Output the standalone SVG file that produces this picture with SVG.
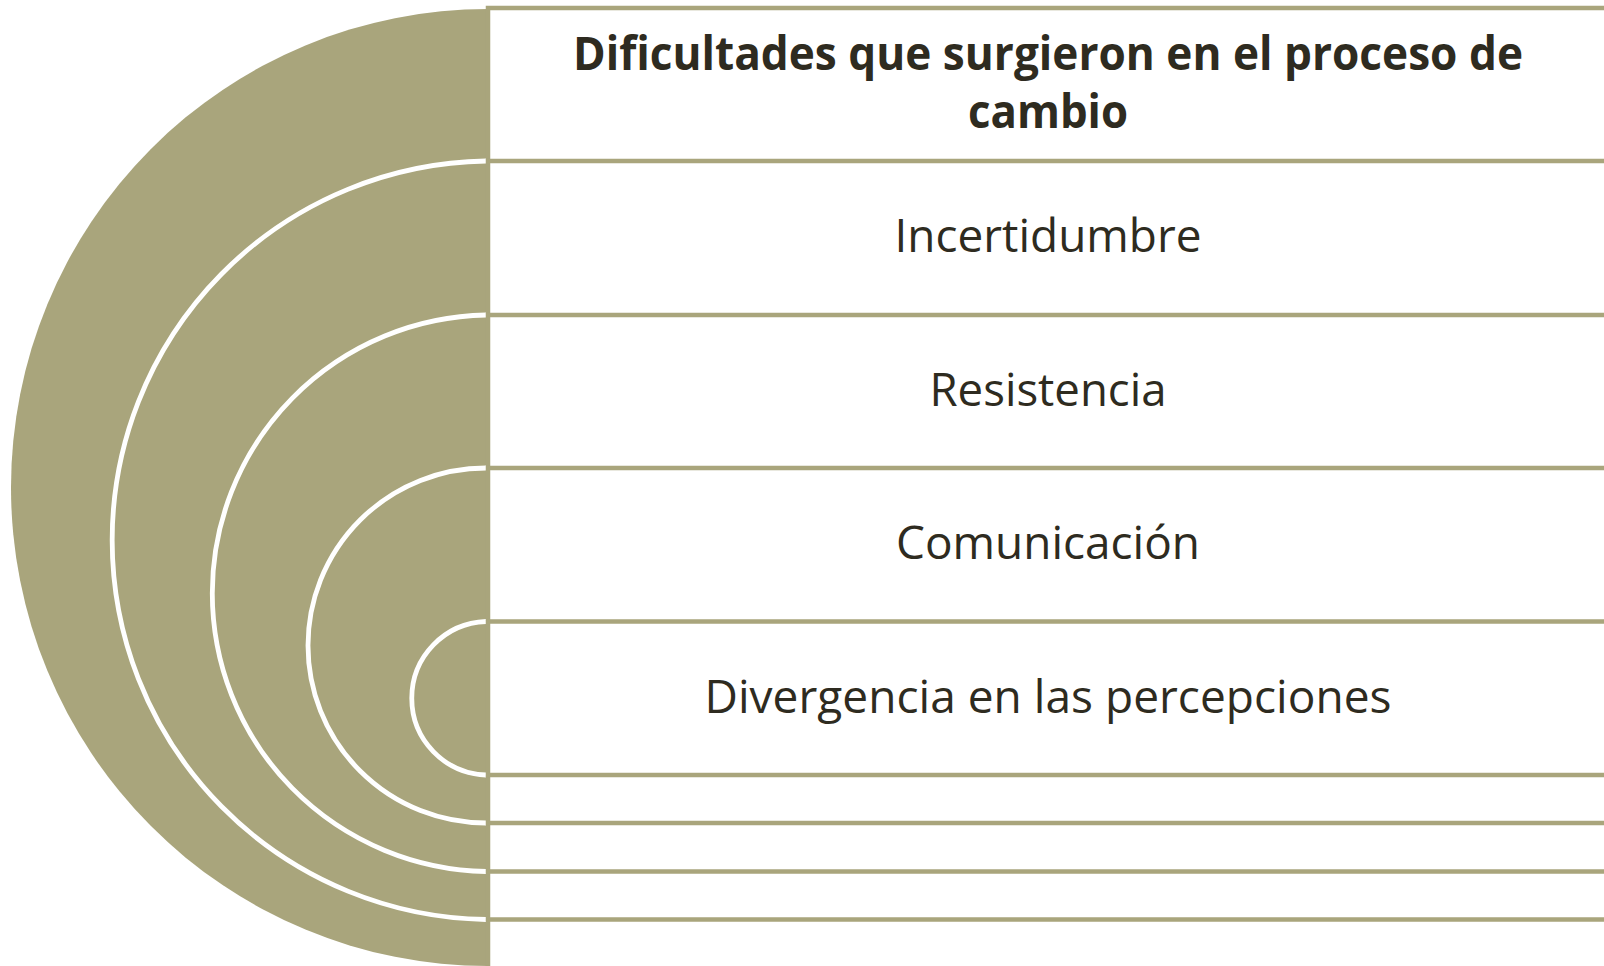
<svg xmlns="http://www.w3.org/2000/svg" width="1604" height="966" viewBox="0 0 1604 966">
<style>
.arc{fill:#A9A57C;stroke:#FFFFFF;stroke-width:4.8}
.outer{fill:#A9A57C;stroke:none}
.box{fill:#FFFFFF;stroke:#A9A57C;stroke-width:4.5}
.t{font-family:"Open Sans","Noto Sans","Liberation Sans",sans-serif;font-size:45px;fill:#2E2B20;text-anchor:middle}
.h{font-family:"Open Sans","Noto Sans","Liberation Sans",sans-serif;font-size:46px;font-weight:bold;fill:#2E2B20;text-anchor:middle}
</style>
<rect x="0" y="0" width="1604" height="966" fill="#FFFFFF"/>
<g id="node-header">
<path class="outer" d="M488 9 A477 478.5 0 0 0 488 966 Z"/>
<rect class="box" x="488" y="8" width="1140" height="970"/>
<text class="h" x="1048" y="70" textLength="950" lengthAdjust="spacingAndGlyphs">Dificultades que surgieron en el proceso de</text>
<text class="h" x="1048" y="128" textLength="160" lengthAdjust="spacingAndGlyphs">cambio</text>
</g>
<g id="node-incertidumbre">
<path class="arc" d="M486 161 A380 379.3 0 0 0 486 919.5"/>
<rect class="box" x="488" y="161" width="1140" height="758.5"/>
<text class="t" x="1048" y="252" textLength="307" lengthAdjust="spacingAndGlyphs">Incertidumbre</text>
</g>
<g id="node-resistencia">
<path class="arc" d="M486 315 A279 278.3 0 0 0 486 871.5"/>
<rect class="box" x="488" y="315" width="1140" height="556.5"/>
<text class="t" x="1048" y="405.5" textLength="237" lengthAdjust="spacingAndGlyphs">Resistencia</text>
</g>
<g id="node-comunicacion">
<path class="arc" d="M486 468 A178 177.5 0 0 0 486 823"/>
<rect class="box" x="488" y="468" width="1140" height="355"/>
<text class="t" x="1048" y="559" textLength="304" lengthAdjust="spacingAndGlyphs">Comunicación</text>
</g>
<g id="node-divergencia">
<path class="arc" d="M486 621.5 A77 76.8 0 0 0 486 775"/>
<rect class="box" x="488" y="621.5" width="1140" height="153.5"/>
<text class="t" x="1048" y="713" textLength="687" lengthAdjust="spacingAndGlyphs">Divergencia en las percepciones</text>
</g>
<g id="connectors"/>
</svg>
